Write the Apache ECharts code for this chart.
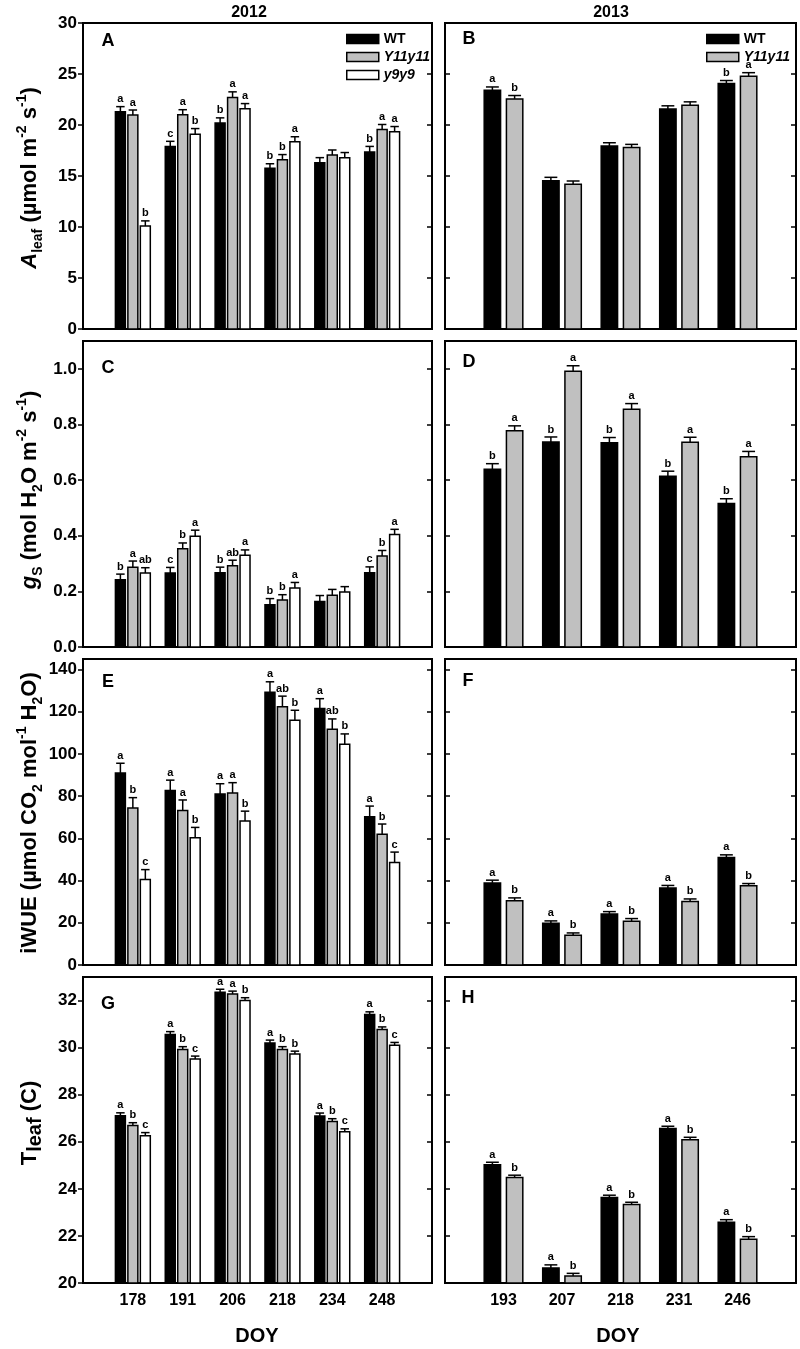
<!DOCTYPE html>
<html><head><meta charset="utf-8">
<script src="https://cdn.jsdelivr.net/npm/echarts@6/dist/echarts.min.js"></script>
<style>html,body{margin:0;padding:0;background:#fff}#c{width:800px;height:1349px}</style>
</head><body><div id="c"></div>
<script>
// ---------- categories ----------
const doy2012 = ['178','191','206','218','234','248'];
const doy2013 = ['193','207','218','231','246'];
const genotypes = ['WT','Y11y11','y9y9'];

// ---------- tick labels ----------
const ticksAleaf = [0,5,10,15,20,25,30];
const ticksGs = [0,0.2,0.4,0.6,0.8,1.0];
const ticksWUE = [0,20,40,60,80,100,120,140];
const ticksTleaf = [20,22,24,26,28,30,32];

// ---------- A: Aleaf 2012 ----------
const aleaf12_WT = [21.3,17.9,20.2,15.75,16.3,17.35];
const aleaf12_WT_se = [0.5,0.5,0.5,0.45,0.5,0.55];
const aleaf12_WT_sig = ['a','c','b','b','','b'];
const aleaf12_Y = [20.97,21.0,22.7,16.6,17.05,19.55];
const aleaf12_Y_se = [0.5,0.5,0.55,0.5,0.5,0.5];
const aleaf12_Y_sig = ['a','a','a','b','','a'];
const aleaf12_y9 = [10.1,19.1,21.6,18.35,16.8,19.35];
const aleaf12_y9_se = [0.5,0.55,0.5,0.5,0.5,0.5];
const aleaf12_y9_sig = ['b','b','a','a','','a'];
// ---------- B: Aleaf 2013 ----------
const aleaf13_WT = [23.4,14.54,17.93,21.58,24.06];
const aleaf13_WT_se = [0.33,0.33,0.33,0.3,0.3];
const aleaf13_WT_sig = ['a','','','','b'];
const aleaf13_Y = [22.56,14.18,17.8,21.94,24.78];
const aleaf13_Y_se = [0.33,0.33,0.3,0.33,0.35];
const aleaf13_Y_sig = ['b','','','','a'];
// ---------- C: gs 2012 ----------
const gs12_WT = [0.242,0.266,0.267,0.152,0.164,0.267];
const gs12_WT_se = [0.02,0.02,0.02,0.022,0.021,0.021];
const gs12_WT_sig = ['b','c','b','b','','c'];
const gs12_Y = [0.287,0.353,0.292,0.169,0.186,0.327];
const gs12_Y_se = [0.022,0.021,0.02,0.019,0.021,0.02];
const gs12_Y_sig = ['a','b','ab','b','','b'];
const gs12_y9 = [0.266,0.398,0.33,0.212,0.198,0.404];
const gs12_y9_se = [0.019,0.022,0.019,0.02,0.019,0.019];
const gs12_y9_sig = ['ab','a','a','a','','a'];
// ---------- D: gs 2013 ----------
const gs13_WT = [0.639,0.737,0.734,0.614,0.516];
const gs13_WT_se = [0.02,0.018,0.019,0.018,0.017];
const gs13_WT_sig = ['b','b','b','b','b'];
const gs13_Y = [0.777,0.991,0.855,0.736,0.684];
const gs13_Y_se = [0.018,0.02,0.02,0.018,0.019];
const gs13_Y_sig = ['a','a','a','a','a'];
// ---------- E: iWUE 2012 ----------
const wue12_WT = [91.0,82.7,81.0,129.3,121.5,70.2];
const wue12_WT_se = [4.6,4.9,4.9,4.9,4.7,5.1];
const wue12_WT_sig = ['a','a','a','a','a','a'];
const wue12_Y = [74.4,73.2,81.5,122.4,111.7,61.9];
const wue12_Y_se = [4.9,5.0,4.9,5.0,4.9,4.9];
const wue12_Y_sig = ['b','a','a','ab','ab','b'];
const wue12_y9 = [40.5,60.3,68.2,116.0,104.6,48.6];
const wue12_y9_se = [4.7,4.9,4.7,4.7,4.9,4.9];
const wue12_y9_sig = ['c','b','b','b','b','c'];
// ---------- F: iWUE 2013 ----------
const wue13_WT = [38.9,19.8,24.2,36.5,50.9];
const wue13_WT_se = [1.3,1.1,1.1,1.2,1.3];
const wue13_WT_sig = ['a','a','a','a','a'];
const wue13_Y = [30.5,14.1,20.7,30.1,37.5];
const wue13_Y_se = [1.3,1.1,1.3,1.2,1.1];
const wue13_Y_sig = ['b','b','b','b','b'];
// ---------- G: Tleaf 2012 ----------
const tleaf12_WT = [27.11,30.56,32.35,30.2,27.1,31.41];
const tleaf12_WT_se = [0.12,0.12,0.13,0.12,0.12,0.11];
const tleaf12_WT_sig = ['a','a','a','a','a','a'];
const tleaf12_Y = [26.69,29.92,32.28,29.92,26.86,30.77];
const tleaf12_Y_se = [0.12,0.12,0.12,0.12,0.12,0.11];
const tleaf12_Y_sig = ['b','b','a','b','b','b'];
const tleaf12_y9 = [26.26,29.52,32.0,29.73,26.43,30.1];
const tleaf12_y9_se = [0.13,0.12,0.12,0.12,0.12,0.12];
const tleaf12_y9_sig = ['c','c','b','b','c','c'];
// ---------- H: Tleaf 2013 ----------
const tleaf13_WT = [25.02,20.64,23.63,26.56,22.58];
const tleaf13_WT_se = [0.11,0.13,0.1,0.1,0.11];
const tleaf13_WT_sig = ['a','a','a','a','a'];
const tleaf13_Y = [24.48,20.3,23.33,26.09,21.86];
const tleaf13_Y_se = [0.1,0.11,0.1,0.1,0.11];
const tleaf13_Y_sig = ['b','b','b','b','b'];

// ---------- styling / layout ----------
const FONT = '"Liberation Sans", Arial, Helvetica, sans-serif';
const FILLS = {WT:'#000000', Y11y11:'#c0c0c0', y9y9:'#ffffff'};
const rowTops = [23, 341, 659, 977];
const H = 306;
const cols = [{left:83, width:349}, {left:445, width:351}];

const panels = [
  {L:'A', r:0, c:0, min:0, max:30, ticks:ticksAleaf, dec:0, s:[[aleaf12_WT,aleaf12_WT_se,aleaf12_WT_sig],[aleaf12_Y,aleaf12_Y_se,aleaf12_Y_sig],[aleaf12_y9,aleaf12_y9_se,aleaf12_y9_sig]], lp:[108,41]},
  {L:'B', r:0, c:1, min:0, max:30, ticks:ticksAleaf, dec:0, s:[[aleaf13_WT,aleaf13_WT_se,aleaf13_WT_sig],[aleaf13_Y,aleaf13_Y_se,aleaf13_Y_sig]], lp:[469,39]},
  {L:'C', r:1, c:0, min:0, max:1.1, ticks:ticksGs, dec:1, s:[[gs12_WT,gs12_WT_se,gs12_WT_sig],[gs12_Y,gs12_Y_se,gs12_Y_sig],[gs12_y9,gs12_y9_se,gs12_y9_sig]], lp:[108,368]},
  {L:'D', r:1, c:1, min:0, max:1.1, ticks:ticksGs, dec:1, s:[[gs13_WT,gs13_WT_se,gs13_WT_sig],[gs13_Y,gs13_Y_se,gs13_Y_sig]], lp:[469,362]},
  {L:'E', r:2, c:0, min:0, max:145, ticks:ticksWUE, dec:0, s:[[wue12_WT,wue12_WT_se,wue12_WT_sig],[wue12_Y,wue12_Y_se,wue12_Y_sig],[wue12_y9,wue12_y9_se,wue12_y9_sig]], lp:[108,682]},
  {L:'F', r:2, c:1, min:0, max:145, ticks:ticksWUE, dec:0, s:[[wue13_WT,wue13_WT_se,wue13_WT_sig],[wue13_Y,wue13_Y_se,wue13_Y_sig]], lp:[468,681]},
  {L:'G', r:3, c:0, min:20, max:33, ticks:ticksTleaf, dec:0, s:[[tleaf12_WT,tleaf12_WT_se,tleaf12_WT_sig],[tleaf12_Y,tleaf12_Y_se,tleaf12_Y_sig],[tleaf12_y9,tleaf12_y9_se,tleaf12_y9_sig]], lp:[108,1004]},
  {L:'H', r:3, c:1, min:20, max:33, ticks:ticksTleaf, dec:0, s:[[tleaf13_WT,tleaf13_WT_se,tleaf13_WT_sig],[tleaf13_Y,tleaf13_Y_se,tleaf13_Y_sig]], lp:[468,998]}
];

function makeRenderer(sigs, offset, widthU, capU, fill, ymin) {
  return function (params, api) {
    const i = params.dataIndex;
    const xc = api.value(0) + offset;
    const v = api.value(1), e = api.value(2);
    const p0 = api.coord([xc, ymin]);
    const p1 = api.coord([xc, v]);
    const p2 = api.coord([xc, v + e]);
    const bw = api.size([widthU, 0])[0];
    const cw = api.size([capU, 0])[0];
    const children = [
      {type:'line', shape:{x1:p1[0], y1:p1[1], x2:p2[0], y2:p2[1]}, style:{stroke:'#000', lineWidth:1.5}},
      {type:'line', shape:{x1:p2[0]-cw/2, y1:p2[1], x2:p2[0]+cw/2, y2:p2[1]}, style:{stroke:'#000', lineWidth:1.5}},
      {type:'rect', shape:{x:p1[0]-bw/2, y:p1[1], width:bw, height:p0[1]-p1[1]}, style:{fill:fill, stroke:'#000', lineWidth:1.5}}
    ];
    if (sigs[i]) {
      children.push({type:'text', style:{text:sigs[i], x:p2[0], y:p2[1]-2,
        textAlign:'center', textVerticalAlign:'bottom', align:'center', verticalAlign:'bottom',
        font:'bold 11px ' + FONT, fill:'#000'}});
    }
    return {type:'group', children:children};
  };
}

const grid = [], xAxis = [], yAxis = [], series = [], graphic = [];
panels.forEach(function (p, k) {
  const col = cols[p.c];
  const n = p.s[0][0].length;
  const cats = p.c === 0 ? doy2012 : doy2013;
  grid.push({left:col.left, top:rowTops[p.r], width:col.width, height:H, show:true, borderColor:'#000', borderWidth:2, backgroundColor:'transparent'});
  xAxis.push({type:'value', gridIndex:k, min:0, max:n+1, interval:1,
    axisLine:{show:true, lineStyle:{color:'#000', width:2}}, axisTick:{show:false}, splitLine:{show:false},
    axisLabel:{show:p.r === 3, margin:10, color:'#000', fontSize:16, fontWeight:'bold', fontFamily:FONT,
      formatter:function (v) { return (v >= 1 && v <= n) ? cats[v-1] : ''; }}});
  const lab = function (v) { return p.dec ? v.toFixed(p.dec) : String(v); };
  yAxis.push({type:'value', gridIndex:k, min:p.min, max:p.max, position:'left',
    axisLine:{show:true, lineStyle:{color:'#000', width:2}},
    axisTick:{show:true, inside:p.c === 1, length:5, customValues:p.ticks, lineStyle:{color:'#000', width:1.5}},
    axisLabel:{show:p.c === 0, customValues:p.ticks, margin:6, color:'#000', fontSize:17, fontWeight:'bold', fontFamily:FONT, formatter:lab},
    splitLine:{show:false}});
  yAxis.push({type:'value', gridIndex:k, min:p.min, max:p.max, position:'right',
    axisLine:{show:true, lineStyle:{color:'#000', width:2}},
    axisTick:{show:true, inside:true, length:5, customValues:p.ticks, lineStyle:{color:'#000', width:1.5}},
    axisLabel:{show:false}, splitLine:{show:false}});
  const ns = p.s.length;
  const offsets = ns === 3 ? [-0.25, 0, 0.25] : [-0.19, 0.19];
  const widthU = ns === 3 ? 0.2 : 0.28;
  const capU = ns === 3 ? 0.17 : 0.22;
  p.s.forEach(function (sd, j) {
    const name = genotypes[j];
    series.push({type:'custom', name:name, xAxisIndex:k, yAxisIndex:2*k, clip:false,
      itemStyle:{color:FILLS[name], borderColor:'#000', borderWidth:1.5},
      encode:{x:0, y:1},
      data: sd[0].map(function (v, i) { return [i+1, v, sd[1][i]]; }),
      renderItem: makeRenderer(sd[2], offsets[j], widthU, capU, FILLS[name], p.min)});
  });
  graphic.push({type:'text', x:p.lp[0], y:p.lp[1], z:10,
    style:{text:p.L, font:'bold 18px ' + FONT, fill:'#000', textAlign:'center', textVerticalAlign:'middle', align:'center', verticalAlign:'middle'}});
});

// year titles & x titles
[[249,13,'2012','bold 16px'],[611,13,'2013','bold 16px'],[257,1336,'DOY','bold 20px'],[618,1336,'DOY','bold 20px']].forEach(function (t) {
  graphic.push({type:'text', x:t[0], y:t[1], style:{text:t[2], font:t[3] + ' ' + FONT, fill:'#000', textAlign:'center', textVerticalAlign:'middle', align:'center', verticalAlign:'middle'}});
});

// y-axis titles (rotated, rich text)
const rich = {
  n:{fontSize:22, fontWeight:'bold', fontFamily:FONT, lineHeight:30, verticalAlign:'middle'},
  it:{fontSize:22, fontWeight:'bold', fontStyle:'italic', fontFamily:FONT, lineHeight:30, verticalAlign:'middle'},
  sub:{fontSize:14, fontWeight:'bold', fontFamily:FONT, lineHeight:10, verticalAlign:'bottom'},
  sup:{fontSize:14, fontWeight:'bold', fontFamily:FONT, lineHeight:16, verticalAlign:'top'},
  subl:{fontSize:20, fontWeight:'bold', fontFamily:FONT, lineHeight:26, verticalAlign:'bottom'}
};
const yTitles = [
  [30, 178, '{it|A}{sub|leaf}{n| (µmol m}{sup|-2}{n| s}{sup|-1}{n|)}'],
  [30, 490, '{it|g}{sub|S}{n| (mol H}{sub|2}{n|O m}{sup|-2}{n| s}{sup|-1}{n|)}'],
  [30, 813, '{n|iWUE (µmol CO}{sub|2}{n| mol}{sup|-1}{n| H}{sub|2}{n|O)}'],
  [30, 1123, '{n|T}{subl|leaf}{n| (C)}']
];
yTitles.forEach(function (t) {
  graphic.push({type:'text', x:t[0], y:t[1], rotation:Math.PI/2,
    style:{text:t[2], rich:rich, font:'bold 22px ' + FONT, fill:'#000', textAlign:'center', textVerticalAlign:'middle', align:'center', verticalAlign:'middle'}});
});

const legendText = {fontSize:14, fontWeight:'bold', fontFamily:FONT, color:'#000', lineHeight:14};
function legendItem(name) {
  return {name:name, itemStyle:{color:FILLS[name], borderColor:'#000', borderWidth:1.5},
    textStyle: name === 'WT' ? {} : {fontStyle:'italic'}};
}
const legend = [
  {orient:'vertical', left:341, top:27, itemWidth:32, itemHeight:9, itemGap:4, icon:'rect', selectedMode:false,
   textStyle:legendText, data:genotypes.map(legendItem)},
  {orient:'vertical', left:701, top:27, itemWidth:32, itemHeight:9, itemGap:4, icon:'rect', selectedMode:false,
   textStyle:legendText, data:genotypes.slice(0,2).map(legendItem)}
];

const chart = echarts.init(document.getElementById('c'), null, {renderer:'canvas'});
chart.setOption({animation:false, backgroundColor:'#fff', grid:grid, xAxis:xAxis, yAxis:yAxis, series:series, graphic:graphic, legend:legend});
</script></body></html>
